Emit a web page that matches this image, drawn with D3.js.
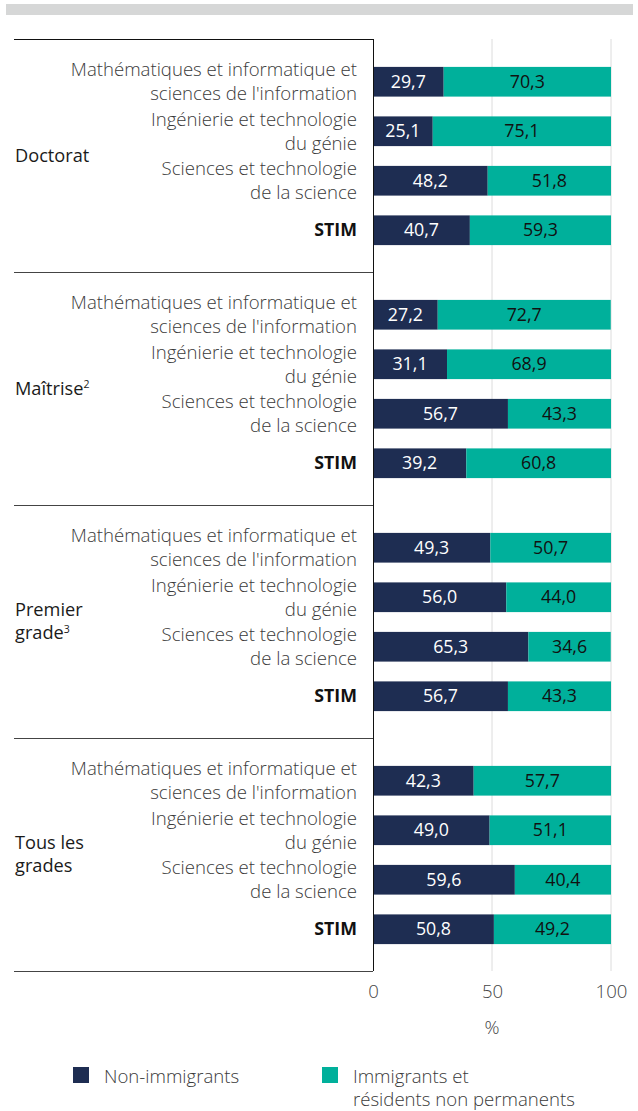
<!DOCTYPE html>
<html>
<head>
<meta charset="utf-8">
<script src="https://cdn.jsdelivr.net/npm/d3@7"></script>
<style>
  html, body { margin: 0; padding: 0; background: #fff; }
  svg { display: block; font-family: "Open Sans", sans-serif; }
</style>
</head>
<body>
<svg id="chart" width="638" height="1111"></svg>
<script>
const groups = ["Doctorat", "Maîtrise", "Premier grade", "Tous les grades"];
const groupLabelLines = [["Doctorat"], ["Maîtrise²"], ["Premier", "grade³"], ["Tous les", "grades"]];
const fields = ["math", "ing", "sci", "stim"];
const fieldLabelLines = [
  ["Mathématiques et informatique et", "sciences de l'information"],
  ["Ingénierie et technologie", "du génie"],
  ["Sciences et technologie", "de la science"],
  ["STIM"]
];
const nonImmigrants = [
  [29.7, 25.1, 48.2, 40.7],
  [27.2, 31.1, 56.7, 39.2],
  [49.3, 56.0, 65.3, 56.7],
  [42.3, 49.0, 59.6, 50.8]
];
const immigrants = [
  [70.3, 75.1, 51.8, 59.3],
  [72.7, 68.9, 43.3, 60.8],
  [50.7, 44.0, 34.6, 43.3],
  [57.7, 51.1, 40.4, 49.2]
];
const xTicks = [0, 50, 100];
const seriesNames = ["Non-immigrants", "Immigrants et résidents non permanents"];
const colors = ["#1e2d52", "#00b09b"];

const svg = d3.select("#chart");
const fmt = v => d3.format(".1f")(v).replace(".", ",");
const FS = 17.8;
const FL = 18.6;

const x = d3.scaleLinear().domain([0, 100]).range([373, 611]);
const yGroup = d3.scaleBand().domain(groups).range([39, 971]).padding(0);
const yInner = d3.scaleBand().domain(fields).range([18, 216]).paddingInner(0.4).paddingOuter(0.2);

// top grey bar
svg.append("rect").attr("x", 6).attr("y", 4).attr("width", 627).attr("height", 11).attr("fill", "#d6d7d7");

// gridlines
svg.append("g").selectAll("line").data(xTicks.filter(d => d > 0)).join("line")
  .attr("x1", d => x(d)).attr("x2", d => x(d))
  .attr("y1", 39).attr("y2", 971)
  .attr("stroke", "#dcdcdc").attr("stroke-width", 1);

// group separators
const sepYs = groups.map(g => yGroup(g)).concat([yGroup(groups[groups.length - 1]) + yGroup.bandwidth()]);
svg.append("g").selectAll("line").data(sepYs).join("line")
  .attr("x1", 14).attr("x2", 373)
  .attr("y1", d => Math.round(d) + 0.5).attr("y2", d => Math.round(d) + 0.5)
  .attr("stroke", d => d === sepYs[0] ? "#111" : "#444").attr("stroke-width", 1);

groups.forEach((g, gi) => {
  const gy = yGroup(g);
  const gg = svg.append("g").attr("transform", `translate(0,${gy})`);
  const lines = groupLabelLines[gi];
  const gc = yGroup.bandwidth() / 2;
  lines.forEach((ln, li) => {
    const t = gg.append("text")
      .attr("x", 15)
      .attr("y", gc + (li - (lines.length - 1) / 2) * 23)
      .attr("dy", "0.35em")
      .attr("font-size", 18.2)
      .attr("fill", "#1a1a1a");
    const m = ln.match(/^(.*?)([²³])$/);
    if (m) {
      t.append("tspan").text(m[1]);
      t.append("tspan").attr("font-size", 10.5).attr("dy", "-0.65em").text(m[2] === "²" ? "2" : "3");
    } else t.text(ln);
  });

  fields.forEach((f, fi) => {
    const by = yInner(f);
    const bh = yInner.bandwidth();
    const cy = by + bh / 2;
    const a = nonImmigrants[gi][fi];
    const b = immigrants[gi][fi];
    const fl = fieldLabelLines[fi];
    fl.forEach((ln, li) => {
      gg.append("text")
        .attr("x", 357)
        .attr("y", cy + (li - (fl.length - 1) / 2) * 24)
        .attr("dy", "0.35em")
        .attr("text-anchor", "end")
        .attr("font-size", fi === 3 ? FS : FL)
        .attr("font-weight", fi === 3 ? 700 : 300)
        .attr("fill", fi === 3 ? "#111" : "#3a3a3a")
        .text(ln);
    });
    gg.append("rect").attr("x", x(0)).attr("y", by).attr("width", x(a) - x(0)).attr("height", bh).attr("fill", colors[0]);
    gg.append("rect").attr("x", x(a)).attr("y", by).attr("width", x(Math.min(100, a + b)) - x(a)).attr("height", bh).attr("fill", colors[1]);
    gg.append("text").attr("x", (x(0) + x(a)) / 2).attr("y", cy).attr("dy", "0.35em")
      .attr("text-anchor", "middle").attr("font-size", FS).attr("fill", "#fff").text(fmt(a));
    gg.append("text").attr("x", (x(a) + x(Math.min(100, a + b))) / 2).attr("y", cy).attr("dy", "0.35em")
      .attr("text-anchor", "middle").attr("font-size", FS).attr("fill", "#111").text(fmt(b));
  });
});

// y axis line
svg.append("line").attr("x1", 373.5).attr("x2", 373.5).attr("y1", 39).attr("y2", 971)
  .attr("stroke", "#111").attr("stroke-width", 1);

// x axis
const xAxis = svg.append("g").attr("transform", "translate(0,971)")
  .call(d3.axisBottom(x).tickValues(xTicks).tickSize(0).tickPadding(14));
xAxis.select(".domain").remove();
xAxis.selectAll("text").attr("font-size", FL).attr("font-weight", 300).attr("fill", "#444").attr("font-family", "Open Sans, sans-serif");

svg.append("text").attr("x", x(50)).attr("y", 1027).attr("dy", "0.35em").attr("text-anchor", "middle")
  .attr("font-size", FL).attr("font-weight", 300).attr("fill", "#444").text("%");

// legend
const legend = [
  { x: 73, lines: ["Non-immigrants"] },
  { x: 322, lines: ["Immigrants et", "résidents non permanents"] }
];
legend.forEach((l, i) => {
  svg.append("rect").attr("x", l.x).attr("y", 1067).attr("width", 16).attr("height", 16).attr("fill", colors[i]);
  l.lines.forEach((ln, li) => {
    svg.append("text").attr("x", l.x + 31).attr("y", 1076 + li * 23).attr("dy", "0.35em")
      .attr("font-size", FL).attr("font-weight", 300).attr("fill", "#3a3a3a").text(ln);
  });
});
</script>
</body>
</html>
